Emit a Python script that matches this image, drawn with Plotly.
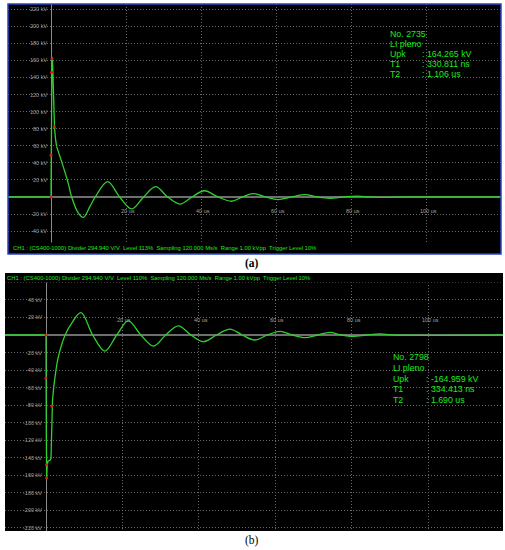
import plotly.graph_objects as go

W, H = 505, 550

# ---------------- data ----------------
# Panel (a): positive lightning impulse, No. 2735
a_front_t = [-11.5, 0.0, 0.08, 0.15, 0.25, 0.4, 0.6, 0.8, 0.95, 1.2, 1.5]
a_front_v = [0, 0, 49, 146, 164, 160, 125, 90, 80, 68, 59]
a_ring_t = [1.5, 3.3, 4.6, 5.5, 7.3, 8.6, 10.4, 11.8, 15.1, 18.3, 21.5, 24.7, 27.9,
            31.1, 34.4, 37.6, 40.9, 44.5, 48.2, 51.0, 53.9, 57.2, 60.5, 64.1, 67.7,
            71.0, 74.4, 78.0, 81.6, 85.0, 88.0, 95.0, 120.0]
a_ring_v = [59, 35, 16, 0, -19, -24, -11, 0, 18, 0, -14, 0, 12,
            0, -8.3, 0, 7.3, 0, -5, 0, 4, 0, -3, 0, 2.7,
            0, -1.5, 0, 1, 0, -0.4, 0, 0]
a_mark_t = [0.0, 0.0, 0.15, 0.25, 0.9]
a_mark_v = [0, 49, 146, 162, 82]

# Panel (b): negative lightning impulse, No. 2798
b_front_t = [-10.7, 0.0, 0.08, 0.17, 0.3, 0.5, 1.0, 1.3, 1.5, 1.7, 2.0, 2.3]
b_front_v = [0, 0, -110, -163, -150, -144, -143, -141, -100, -75, -60, -50]
b_ring_t = [2.3, 3.2, 5.0, 6.7, 9.15, 12.2, 15.4, 18.5, 21.5, 24.8, 28.1, 31.3,
            34.6, 37.9, 41.1, 44.6, 48.1, 51.3, 54.6, 57.9, 61.2, 64.4, 67.7,
            71.0, 74.2, 77.2, 80.3, 83.8, 87.3, 91.0, 119.5]
b_ring_v = [-50, -25.5, 0, 13.3, 25.5, 0, -18.3, 0, 16, 0, -12.6, 0,
            10.3, 0, -7.6, 0, 6.8, 0, -5.7, 0, 4.2, 0, -3,
            0, 3, 0, -1.5, 0, 1.2, 0, 0]
b_mark_t = [0.0, 0.0, 0.15, 0.15, 1.5]
b_mark_v = [0, -49, -148, -163, -81]

a_ytick_vals = [220, 200, 180, 160, 140, 120, 100, 80, 60, 40, 20, -20, -40]
b_ytick_vals = [40, 20, -20, -40, -60, -80, -100, -120, -140, -160, -180, -200, -220]
xtick_vals = [20, 40, 60, 80, 100]

a_info_labels = ["No. 2735", "LI pleno", "Upk", "T1", "T2"]
a_info_values = ["", "", ": 164.265 kV", ": 330.811 ns", ": 1.106 us"]
b_info_labels = ["No. 2798", "LI pleno", "Upk", "T1", "T2"]
b_info_values = ["", "", ": -164.959 kV", ": 334.413 ns", ": 1.690 us"]

a_status = "CH1 : (CS400-1000) Divider 294.940 V/V  Level 113%  Sampling 120.000 Ms/s  Range 1.00 kVpp  Trigger Level 10%"
b_status = "CH1 : (CS400-1000) Divider 294.940 V/V  Level 110%  Sampling 120.000 Ms/s  Range 1.00 kVpp  Trigger Level 10%"

# ---------------- styling ----------------
GREEN = "#2fd12f"
TXT_GREEN = "#1ee81e"
GRID = "#6a6a6a"
LBL = "#a0a0a0"
SANS = "Liberation Sans, Arial, sans-serif"


def px(x):
    return x / W


def py(y):
    return 1 - y / H


fig = go.Figure()

for (ft, fv, rt, rv, mt, mv, xa, ya) in [
    (a_front_t, a_front_v, a_ring_t, a_ring_v, a_mark_t, a_mark_v, "x", "y"),
    (b_front_t, b_front_v, b_ring_t, b_ring_v, b_mark_t, b_mark_v, "x2", "y2"),
]:
    fig.add_trace(go.Scatter(x=ft, y=fv, mode="lines", xaxis=xa, yaxis=ya,
                             line=dict(color=GREEN, width=1.3), hoverinfo="skip"))
    fig.add_trace(go.Scatter(x=rt, y=rv, mode="lines", xaxis=xa, yaxis=ya,
                             line=dict(color=GREEN, width=1.3, shape="spline", smoothing=1.0),
                             hoverinfo="skip"))
    fig.add_trace(go.Scatter(x=mt, y=mv, mode="markers", xaxis=xa, yaxis=ya,
                             marker=dict(color="#d02020", size=3), hoverinfo="skip"))

axis_common = dict(showticklabels=False, ticks="", showgrid=True, gridcolor=GRID,
                   griddash="1px,2px", gridwidth=1, zeroline=True, showline=False,
                   fixedrange=True, dtick=20, tick0=0)

fig.update_layout(
    width=W, height=H,
    margin=dict(l=0, r=0, t=0, b=0),
    paper_bgcolor="white",
    plot_bgcolor="black",
    showlegend=False,
    xaxis=dict(domain=[px(8), px(501)], range=[-11.47, 120.0], anchor="y",
               zerolinecolor="#8a8a8a", zerolinewidth=1, **axis_common),
    yaxis=dict(domain=[py(254), py(4)], range=[-66.8, 226.0], anchor="x",
               zerolinecolor="#6e6e6e", zerolinewidth=2, **axis_common),
    xaxis2=dict(domain=[px(5), px(503)], range=[-10.72, 119.5], anchor="y2",
                zerolinecolor="#8a8a8a", zerolinewidth=1, **axis_common),
    yaxis2=dict(domain=[py(531), py(273)], range=[-223.5, 70.7], anchor="x2",
                zerolinecolor="#6e6e6e", zerolinewidth=2, **axis_common),
)

ann = []
# y tick labels next to the t = 0 line
for v in a_ytick_vals:
    ann.append(dict(x=0, y=v, xref="x", yref="y", text=f"{v} kV", showarrow=False,
                    xanchor="right", yanchor="middle", xshift=-2,
                    font=dict(family=SANS, size=5.5, color=LBL)))
for v in b_ytick_vals:
    ann.append(dict(x=0, y=v, xref="x2", yref="y2", text=f"{v} kV", showarrow=False,
                    xanchor="right", yanchor="middle", xshift=-2,
                    font=dict(family=SANS, size=5.5, color=LBL)))
# time labels
for t in xtick_vals:
    ann.append(dict(x=t, y=-17, xref="x", yref="y", text=f"{t} us", showarrow=False,
                    xanchor="center", yanchor="middle", xshift=2,
                    font=dict(family=SANS, size=5.5, color=LBL)))
    ann.append(dict(x=t, y=17, xref="x2", yref="y2", text=f"{t} us", showarrow=False,
                    xanchor="center", yanchor="middle", xshift=2,
                    font=dict(family=SANS, size=5.5, color=LBL)))

# info boxes
a_rows = [34, 44, 54, 64, 74]
for lab, val, yy in zip(a_info_labels, a_info_values, a_rows):
    ann.append(dict(x=px(388), y=py(yy), xref="paper", yref="paper", text=lab,
                    showarrow=False, xanchor="left", yanchor="middle",
                    font=dict(family=SANS, size=8.8, color=TXT_GREEN)))
    if val:
        ann.append(dict(x=px(420), y=py(yy), xref="paper", yref="paper", text=val,
                        showarrow=False, xanchor="left", yanchor="middle",
                        font=dict(family=SANS, size=8.8, color=TXT_GREEN)))
b_rows = [357, 368, 379, 389, 400]
for lab, val, yy in zip(b_info_labels, b_info_values, b_rows):
    ann.append(dict(x=px(391), y=py(yy), xref="paper", yref="paper", text=lab,
                    showarrow=False, xanchor="left", yanchor="middle",
                    font=dict(family=SANS, size=8.8, color=TXT_GREEN)))
    if val:
        ann.append(dict(x=px(424), y=py(yy), xref="paper", yref="paper", text=val,
                        showarrow=False, xanchor="left", yanchor="middle",
                        font=dict(family=SANS, size=8.8, color=TXT_GREEN)))

# status bars
ann.append(dict(x=px(11), y=py(248), xref="paper", yref="paper", text=a_status,
                showarrow=False, xanchor="left", yanchor="middle",
                font=dict(family=SANS, size=5.85, color=TXT_GREEN)))
ann.append(dict(x=px(5), y=py(277.5), xref="paper", yref="paper", text=b_status,
                showarrow=False, xanchor="left", yanchor="middle",
                font=dict(family=SANS, size=5.85, color=TXT_GREEN)))

# captions
ann.append(dict(x=px(252), y=py(263), xref="paper", yref="paper", text="<b>(a)</b>",
                showarrow=False, xanchor="center", yanchor="middle",
                font=dict(family="Liberation Serif, Times New Roman, serif", size=11.5, color="black")))
ann.append(dict(x=px(252), y=py(540), xref="paper", yref="paper", text="(b)",
                showarrow=False, xanchor="center", yanchor="middle",
                font=dict(family="Liberation Serif, Times New Roman, serif", size=11.5, color="black")))

fig.update_layout(annotations=ann)

shapes = [
    # status bar strip of panel (a)
    dict(type="rect", xref="paper", yref="paper", x0=px(8), x1=px(501), y0=py(253.5), y1=py(242.5),
         fillcolor="black", line=dict(width=0), layer="above"),
    # blue frame around panel (a)
    dict(type="rect", xref="paper", yref="paper", x0=px(8), x1=px(501), y0=py(254), y1=py(4),
         line=dict(color="#2a44c8", width=1.5), fillcolor="rgba(0,0,0,0)", layer="above"),
    # status bar strip of panel (b)
    dict(type="rect", xref="paper", yref="paper", x0=px(5), x1=px(503), y0=py(282.5), y1=py(273),
         fillcolor="black", line=dict(width=0), layer="above"),
]
fig.update_layout(shapes=shapes)

fig.write_html("out.html",
               config={"displayModeBar": False, "staticPlot": True},
               post_script="document.body.style.margin='0px';document.body.style.padding='0px';"
                           "document.body.style.overflow='hidden';")
